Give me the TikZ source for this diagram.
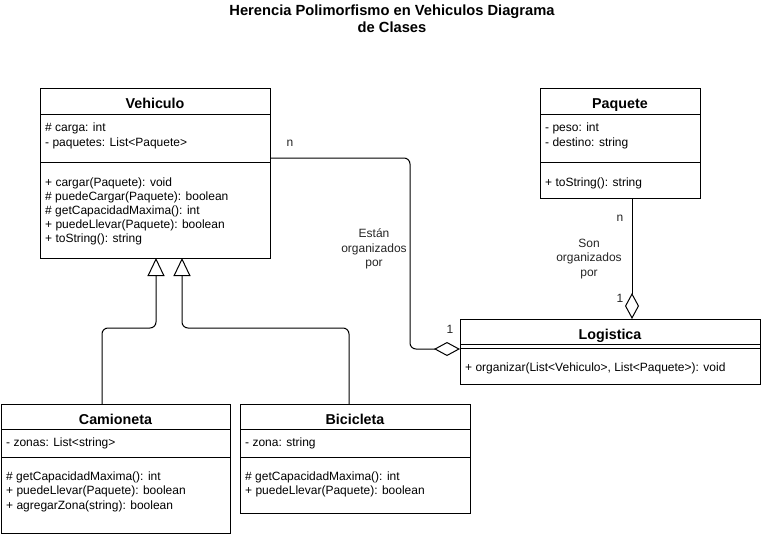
\documentclass[tikz,border=0pt]{standalone}
\usepackage{fontspec}
\setmainfont{Liberation Sans}
\usetikzlibrary{arrows.meta}
\begin{document}
\begin{tikzpicture}[x=1pt,y=-1pt,
  cls/.style={draw, line width=1pt, anchor=north west, inner sep=0pt, outer sep=0pt},
  ctitle/.style={font=\bfseries\fontsize{14.3}{17}\selectfont, anchor=base, inner sep=0pt},
  mem/.style={font=\fontsize{12}{14.4}\selectfont, anchor=base west, inner sep=0pt},
  lbl/.style={font=\fontsize{12}{14.4}\selectfont, align=center, inner sep=0pt, text=black!85},
  sepline/.style={line width=1pt},
  conn/.style={line width=1pt, rounded corners=6pt},
  inh/.style={conn, -{Triangle[open, length=18pt, width=17pt, line width=1pt]}},
  agg/.style={conn, -{Diamond[open, length=26pt, width=14pt, line width=1pt]}}]
\useasboundingbox (0,0) rectangle (761,536);
\fill[white] (0,0) rectangle (761,536);

% main title
\node[font=\bfseries\fontsize{14.7}{17}\selectfont, align=center, inner sep=0pt] (title) at (392,18.5)
  {Herencia Polimorfismo en Vehiculos Diagrama\\de Clases};

% ---------------- Vehiculo
\node[cls, minimum width=230pt, minimum height=170pt] (veh) at (40,88) {};
\draw[sepline] (40,114) -- (270,114);
\draw[sepline] (40,162) -- (270,162);
\node[ctitle] (vehT) at (155,108) {Vehiculo};
\node[mem] (va1) at (45,131.7) {\# carga: int};
\node[mem] (va2) at (45,146) {- paquetes: List<Paquete>};
\node[mem] (vm1) at (45,186) {+ cargar(Paquete): void};
\node[mem] (vm2) at (45,200.2) {\# puedeCargar(Paquete): boolean};
\node[mem] (vm3) at (45,214.4) {\# getCapacidadMaxima(): int};
\node[mem] (vm4) at (45,228.6) {+ puedeLlevar(Paquete): boolean};
\node[mem] (vm5) at (45,242.8) {+ toString(): string};

% ---------------- Paquete
\node[cls, minimum width=160pt, minimum height=110pt] (paq) at (540,88) {};
\draw[sepline] (540,114) -- (700,114);
\draw[sepline] (540,162) -- (700,162);
\node[ctitle] (paqT) at (620,108) {Paquete};
\node[mem] (pa1) at (545,131.7) {- peso: int};
\node[mem] (pa2) at (545,146) {- destino: string};
\node[mem] (pm1) at (545,186) {+ toString(): string};

% ---------------- Logistica
\node[cls, minimum width=300pt, minimum height=65pt] (log) at (460,319) {};
\draw[sepline] (460,344) -- (760,344);
\draw[sepline] (460,348) -- (760,348);
\node[ctitle] (logT) at (610,339) {Logistica};
\node[mem] (lm1) at (465,371.7) {+ organizar(List<Vehiculo>, List<Paquete>): void};

% ---------------- Camioneta
\node[cls, minimum width=229pt, minimum height=129pt] (cam) at (1,404) {};
\draw[sepline] (1,429) -- (230,429);
\draw[sepline] (1,457) -- (230,457);
\node[ctitle] (camT) at (115.5,424) {Camioneta};
\node[mem] (ca1) at (6,446.7) {- zonas: List<string>};
\node[mem] (cm1) at (6,480.7) {\# getCapacidadMaxima(): int};
\node[mem] (cm2) at (6,494.9) {+ puedeLlevar(Paquete): boolean};
\node[mem] (cm3) at (6,509.1) {+ agregarZona(string): boolean};

% ---------------- Bicicleta
\node[cls, minimum width=230pt, minimum height=109pt] (bic) at (240,404) {};
\draw[sepline] (240,429) -- (470,429);
\draw[sepline] (240,457) -- (470,457);
\node[ctitle] (bicT) at (355,424) {Bicicleta};
\node[mem] (ba1) at (245,446.7) {- zona: string};
\node[mem] (bm1) at (245,480.7) {\# getCapacidadMaxima(): int};
\node[mem] (bm2) at (245,494.9) {+ puedeLlevar(Paquete): boolean};

% ---------------- connector end points
\coordinate (vout) at (270,158);
\coordinate (lin) at (460,349);
\coordinate (pout) at (632,198);
\coordinate (lin2) at (632,319);
\coordinate (cout) at (102,404);
\coordinate (bout) at (349,404);
\coordinate (vin1) at (156,258);
\coordinate (vin2) at (182,258);

% inheritance
\draw[inh] (cout) -- (102,328) -- (156,328) -- (vin1);
\draw[inh] (bout) -- (349,328) -- (182,328) -- (vin2);

% aggregations
\draw[agg] (vout) -- (410,158) -- (410,349) -- (lin);
\draw[agg] (pout) -- (lin2);

% labels
\node[lbl] (ln1) at (290,143) {n};
\node[lbl] (ln2) at (450,329) {1};
\node[lbl] (ln3) at (374,249) {Están\\organizados\\por};
\node[lbl] (ln4) at (620,218) {n};
\node[lbl] (ln5) at (620,298) {1};
\node[lbl] (ln6) at (589,259) {Son\\organizados\\por};
\end{tikzpicture}
\end{document}
